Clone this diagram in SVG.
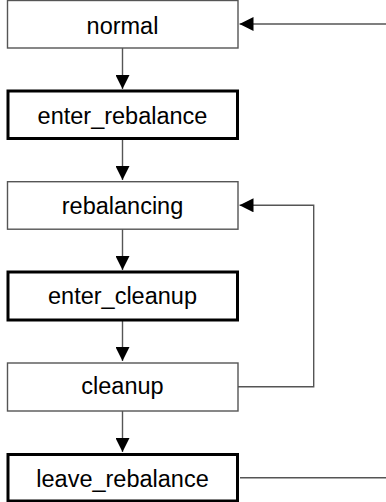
<svg xmlns="http://www.w3.org/2000/svg" width="386" height="502" viewBox="0 0 386 502">
  <style>
    .state rect { fill: #ffffff; stroke: #555555; stroke-width: 1.4; }
    .state.major rect { stroke: #000000; stroke-width: 3; }
    .state text { font-family: "Liberation Sans", Arial, sans-serif; font-size: 23.5px; fill: #000000; text-anchor: middle; }
    .edge { fill: none; stroke: #555555; stroke-width: 1.4; }
  </style>
  <defs>
    <marker id="arrow" viewBox="0 0 14 14" refX="14" refY="7" markerWidth="14" markerHeight="14" markerUnits="userSpaceOnUse" orient="auto">
      <path d="M0,0 L14,7 L0,14 Z" fill="#000000"/>
    </marker>
  </defs>

  <g id="connectors">
    <line class="edge" x1="122.5" y1="48" x2="122.5" y2="89" marker-end="url(#arrow)"/>
    <line class="edge" x1="122.5" y1="139" x2="122.5" y2="180" marker-end="url(#arrow)"/>
    <line class="edge" x1="122.5" y1="229" x2="122.5" y2="270" marker-end="url(#arrow)"/>
    <line class="edge" x1="122.5" y1="320" x2="122.5" y2="361" marker-end="url(#arrow)"/>
    <line class="edge" x1="122.5" y1="411" x2="122.5" y2="452" marker-end="url(#arrow)"/>
    <polyline class="edge" points="238,386.7 313.7,386.7 313.7,205.3 239.5,205.3" marker-end="url(#arrow)"/>
    <line class="edge" x1="240" y1="477.7" x2="386" y2="477.7"/>
    <line class="edge" x1="386" y1="24" x2="239.5" y2="24" marker-end="url(#arrow)"/>
  </g>

  <g id="normal" class="state">
    <rect x="7.5" y="0.5" width="230.5" height="47.5"/>
    <text x="122.5" y="34">normal</text>
  </g>
  <g id="enter_rebalance" class="state major">
    <rect x="8" y="91" width="229.5" height="47.5"/>
    <text x="122.5" y="124">enter_rebalance</text>
  </g>
  <g id="rebalancing" class="state">
    <rect x="7.5" y="181.7" width="230.5" height="47.5"/>
    <text x="122.5" y="214">rebalancing</text>
  </g>
  <g id="enter_cleanup" class="state major">
    <rect x="8" y="272" width="229.5" height="48"/>
    <text x="122.5" y="304">enter_cleanup</text>
  </g>
  <g id="cleanup" class="state">
    <rect x="7.5" y="363" width="230.5" height="48"/>
    <text x="122.5" y="394">cleanup</text>
  </g>
  <g id="leave_rebalance" class="state major">
    <rect x="8" y="454.5" width="229.5" height="46.5"/>
    <text x="122.5" y="487">leave_rebalance</text>
  </g>
</svg>
